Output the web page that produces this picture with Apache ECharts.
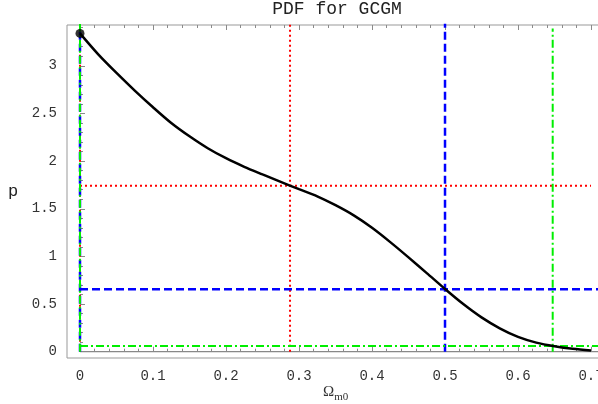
<!DOCTYPE html>
<html>
<head>
<meta charset="utf-8">
<script src="https://cdn.jsdelivr.net/npm/echarts@6/dist/echarts.min.js"></script>
<style>html,body{margin:0;padding:0;background:#fff}#c{width:598px;height:404px}</style>
</head>
<body>
<div id="c"></div>
<script>
// ---- data ----
var curveX = [0, 0.025, 0.05, 0.075, 0.1, 0.125, 0.15, 0.175, 0.2, 0.225, 0.25, 0.275, 0.3, 0.325, 0.35, 0.375, 0.4, 0.425, 0.45, 0.475, 0.5, 0.525, 0.55, 0.575, 0.6, 0.625, 0.65, 0.675, 0.7];
var curveY = [3.34, 3.12, 2.925, 2.74, 2.565, 2.40, 2.26, 2.135, 2.03, 1.94, 1.86, 1.782, 1.705, 1.63, 1.537, 1.43, 1.30, 1.15, 0.99, 0.825, 0.658, 0.50, 0.36, 0.245, 0.155, 0.095, 0.057, 0.03, 0.013];
var peakX = 0, peakY = 3.34;
var levelNames = ['red', 'blue', 'green'];
var levelX = [0.2877, 0.5, 0.6475];   // credible bounds on Omega_m0
var levelY = [1.742, 0.655, 0.06];    // pdf levels
var levelTop = [3.5, 3.5, 3.39];      // upper end of vertical lines
var levelRight = [0.7, 0.712, 0.712]; // right end of horizontal lines
var zeroTop = [3.34, 3.36, 3.5];      // top of the lines at x = 0
var xTicks = [0, 0.1, 0.2, 0.3, 0.4, 0.5, 0.6, 0.7];
var yTicks = [0, 0.5, 1, 1.5, 2, 2.5, 3];
var titleText = 'PDF for GCGM';
var yName = 'p';
var xNameMain = 'Ω', xNameSub = 'm0';
var XMIN = -0.0178, XMAX = 0.7123, YMIN = -0.066, YMAX = 3.428;

var xMinor = [], yMinor = [];
for (var i = 0; i <= 36; i++) xMinor.push(+(i * 0.02).toFixed(2));
for (var j = 0; j <= 34; j++) yMinor.push(+(j * 0.1).toFixed(1));

var colors = {red: '#ff0000', blue: '#0000ff', green: '#00ee00'};
var dashes = {red: [2, 3], blue: [8, 4], green: [8, 3, 2, 3]};
var widths = {red: 2, blue: 2.5, green: 2};

var FONT = 'Liberation Mono';
var TICKC = '#8a8a8a';

function xAx(pos, vals, len, labels) {
  return {
    type: 'value', position: pos, min: XMIN, max: XMAX,
    axisLine: {show: false}, splitLine: {show: false},
    axisTick: {show: true, inside: true, length: len, customValues: vals, lineStyle: {color: TICKC, width: 1}},
    axisLabel: labels ? {show: true, customValues: vals, fontFamily: FONT, fontSize: 14, color: '#333', margin: 11,
      formatter: function (v) { return String(v); }} : {show: false}
  };
}
function yAx(vals, len, labels) {
  return {
    type: 'value', position: 'left', min: YMIN, max: YMAX,
    axisLine: {show: false}, splitLine: {show: false},
    axisTick: {show: true, inside: true, length: len, customValues: vals, lineStyle: {color: TICKC, width: 1}},
    axisLabel: labels ? {show: true, customValues: vals, fontFamily: FONT, fontSize: 14, color: '#333', margin: 10,
      formatter: function (v) { return String(v); }} : {show: false}
  };
}

var series = [];
// grey axis line at p = 0
series.push({type: 'line', xAxisIndex: 0, yAxisIndex: 0, data: [[0, 0], [XMAX, 0]], symbol: 'none',
  lineStyle: {color: '#888', width: 1.2}, z: 1, silent: true});
// lines at x = 0
levelNames.forEach(function (n, k) {
  series.push({type: 'line', xAxisIndex: 0, yAxisIndex: 0, data: [[0, 0], [0, zeroTop[k]]], symbol: 'none',
    lineStyle: {color: colors[n], width: widths[n], type: dashes[n]}, z: 2 + k, silent: true});
});
// horizontal and vertical level lines
levelNames.forEach(function (n, k) {
  series.push({type: 'line', xAxisIndex: 0, yAxisIndex: 0, data: [[0, levelY[k]], [levelRight[k], levelY[k]]], symbol: 'none',
    lineStyle: {color: colors[n], width: widths[n], type: dashes[n]}, z: 3, silent: true});
  series.push({type: 'line', xAxisIndex: 0, yAxisIndex: 0, data: [[levelX[k], 0], [levelX[k], levelTop[k]]], symbol: 'none',
    lineStyle: {color: colors[n], width: widths[n], type: dashes[n]}, z: 3, silent: true});
});
// pdf curve
series.push({type: 'line', xAxisIndex: 0, yAxisIndex: 0, smooth: 0.3,
  data: curveX.map(function (x, i) { return [x, curveY[i]]; }), symbol: 'none',
  lineStyle: {color: '#000', width: 2.5}, z: 10, silent: true});
// peak dot
series.push({type: 'scatter', xAxisIndex: 0, yAxisIndex: 0, data: [[peakX, peakY]], symbol: 'circle', symbolSize: 9,
  itemStyle: {color: '#000'}, z: 11, silent: true, clip: false});

var chart = echarts.init(document.getElementById('c'), null, {renderer: 'canvas'});
chart.setOption({
  animation: false,
  backgroundColor: '#fff',
  grid: {left: 67, top: 25, width: 533, height: 333, show: true, borderColor: '#999', borderWidth: 1,
    backgroundColor: 'transparent', containLabel: false, outerBoundsMode: 'none'},
  xAxis: [xAx('bottom', xTicks, 5, true), xAx('bottom', xMinor, 3, false), xAx('top', xTicks, 5, false), xAx('top', xMinor, 3, false)],
  yAxis: [yAx(yTicks, 5, true), yAx(yMinor, 3, false)],
  series: series,
  graphic: [
    {type: 'text', x: 337, y: 9, style: {text: titleText, font: '18px "Liberation Mono"', fill: '#222', align: 'center', verticalAlign: 'middle'}},
    {type: 'text', x: 13, y: 191, style: {text: yName, font: '17px "Liberation Mono"', fill: '#222', align: 'center', verticalAlign: 'middle'}},
    {type: 'text', x: 323, y: 392, style: {
      text: '{a|' + xNameMain + '}{b|' + xNameSub + '}', verticalAlign: 'middle',
      rich: {a: {fontFamily: 'Liberation Serif', fontSize: 15, fill: '#333', verticalAlign: 'bottom'},
             b: {fontFamily: 'Liberation Serif', fontSize: 11, fill: '#333', verticalAlign: 'bottom', padding: [0, 0, -3, 0]}}}}
  ]
});
</script>
</body>
</html>
